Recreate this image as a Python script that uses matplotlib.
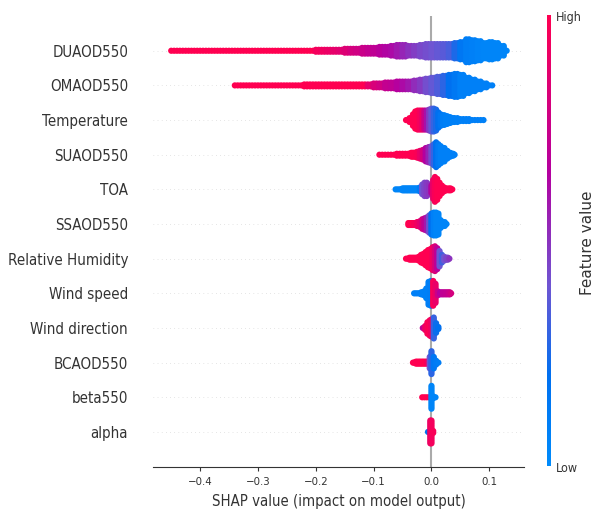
import matplotlib
matplotlib.use("Agg")
import matplotlib.pyplot as plt
from matplotlib.cm import ScalarMappable
from matplotlib.colors import LinearSegmentedColormap, Normalize

# features, top to bottom
features = ['DUAOD550', 'OMAOD550', 'Temperature', 'SUAOD550', 'TOA', 'SSAOD550',
            'Relative Humidity', 'Wind speed', 'Wind direction', 'BCAOD550', 'beta550', 'alpha']

# for every feature: shap value of the bin, dots stacked in the bin, feature value (0 low, 1 high)
duaod_x = [-.45, -.44, -.43, -.42, -.41, -.40, -.39, -.38, -.37, -.36, -.35, -.34, -.33, -.32, -.31,
           -.30, -.29, -.28, -.27, -.26, -.25, -.24, -.23, -.22, -.21, -.20, -.19, -.18, -.17, -.16,
           -.15, -.14, -.13, -.12, -.11, -.10, -.09, -.08, -.07, -.06, -.05, -.04, -.03, -.02, -.01,
           0, .01, .02, .03, .04, .05, .06, .07, .08, .09, .10, .11, .12, .13]
duaod_n = [1] * 25 + [2, 2, 2, 2, 2, 3, 3, 3, 4, 4, 4, 5, 5, 6, 7, 7, 6, 6, 7, 8, 8, 8, 8, 8, 9, 10, 13, 12, 11, 9, 10, 9, 6, 1]
duaod_c = [1] * 25 + [.95, .93, .91, .89, .86, .84, .8, .78, .75, .72, .7, .67, .64, .62, .58, .54, .5, .47, .44, .42,
                      .4, .38, .36, .33, .25, .15, .1, .08, .06, .05, .05, .05, .05, .05]

omaod_x = [-.34, -.33, -.32, -.31, -.30, -.29, -.28, -.27, -.26, -.25, -.24, -.23, -.22, -.21, -.20, -.19,
           -.18, -.17, -.16, -.15, -.14, -.13, -.12, -.11, -.10, -.09, -.08, -.07, -.06, -.05, -.04, -.03,
           -.02, -.01, 0, .01, .02, .03, .04, .05, .06, .07, .08, .09, .10, .11]
omaod_n = [1] * 12 + [2] * 12 + [3, 3, 4, 4, 5, 5, 5, 6, 7, 8, 9, 10, 11, 12, 13, 12, 9, 7, 5, 3, 1, 1]
omaod_c = [1] * 23 + [.88, .82, .78, .72, .7, .66, .62, .58, .52, .48, .42, .38, .34, .28, .2, .14, .08, .08, .08, .08, .08, .08]

temp_x = [-.044, -.038, -.032, -.028, -.024, -.02, -.016, -.012, -.008, -.004, 0, .004, .008, .012, .016,
          .02, .025, .03, .035, .04, .05, .06, .07, .08, .09]
temp_n = [1, 3, 7, 10, 11, 11, 11, 11, 11, 12, 13, 13, 12, 9, 7, 6, 5, 4, 3, 3, 2, 2, 1, 1, 1]
temp_c = [1, 1, 1, 1, 1, .95, .9, .75, .6, .48, .38, .3, .25, .2, .15, .1, .08, .08, .08, .08, .08, .08, .08, .08, .08]

suaod_x = [-.09, -.08, -.07, -.06, -.05, -.04, -.035, -.03, -.025, -.02, -.015, -.01, -.005, 0, .004, .008,
           .012, .016, .02, .025, .03, .035, .04]
suaod_n = [1, 1, 1, 2, 2, 2, 3, 3, 4, 5, 6, 8, 9, 10, 12, 14, 12, 10, 8, 5, 3, 2, 1]
suaod_c = [1, 1, 1, 1, 1, 1, 1, 1, .98, .9, .8, .65, .55, .42, .3, .2, .12, .08, .08, .08, .08, .08, .08]

toa_x = [-.062, -.055, -.05, -.045, -.04, -.035, -.03, -.025, -.02, -.016, -.012, -.008, -.004, 0, .003,
         .006, .01, .014, .018, .022, .026, .03, .036]
toa_n = [1, 1, 2, 2, 2, 2, 2, 2, 3, 6, 8, 8, 6, 5, 11, 14, 12, 8, 5, 3, 2, 2, 1]
toa_c = [.05, .05, .05, .05, .05, .05, .05, .05, .12, .4, .45, .48, .5, .65, .9, .97, 1, 1, 1, 1, 1, 1, 1]

ssaod_x = [-.04, -.035, -.03, -.025, -.02, -.016, -.012, -.008, -.004, 0, .004, .008, .012, .016, .02, .026]
ssaod_n = [2, 2, 2, 3, 4, 6, 7, 8, 10, 12, 13, 13, 12, 5, 3, 1]
ssaod_c = [1, 1, .97, .93, .87, .8, .7, .58, .42, .2, .08, .05, .05, .05, .05, .05]

rh_x = [-.044, -.038, -.032, -.026, -.022, -.018, -.014, -.01, -.006, -.002, .002, .006, .01, .014, .018, .022, .026, .031]
rh_n = [1, 2, 2, 2, 3, 5, 6, 8, 10, 11, 13, 14, 12, 9, 5, 3, 2, 1]
rh_c = [1, 1, 1, 1, 1, 1, 1, 1, 1, 1, .93, .82, .68, .4, .32, .4, .45, .5]

wspeed_x = [-.03, -.024, -.018, -.013, -.009, -.005, -.001, .003, .007, .011, .015, .02, .025, .03, .034]
wspeed_n = [1, 1, 2, 3, 6, 13, 14, 14, 11, 3, 2, 2, 2, 2, 1]
wspeed_c = [.08, .08, .08, .08, .08, .08, .1, .97, .9, .75, .65, .7, .72, .75, .8]

wdir_x = [-.015, -.011, -.007, -.003, 0, .004, .008, .012]
wdir_n = [1, 3, 7, 9, 10, 12, 6, 2]
wdir_c = [.7, .9, .97, .98, .92, .3, .22, .2]

bc_x = [-.032, -.027, -.022, -.017, -.012, -.007, -.003, 0, .004, .008, .012]
bc_n = [1, 2, 2, 2, 2, 2, 7, 13, 7, 3, 1]
bc_c = [1, 1, 1, 1, 1, .95, .4, .28, .15, .12, .1]

beta_x = [-.016, -.012, -.008, -.004, 0, .003, .007]
beta_n = [1, 1, 1, 1, 13, 2, 1]
beta_c = [1, 1, 1, 1, .05, .05, .05]

alpha_x = [-.006, -.002, 0, .003]
alpha_n = [1, 13, 13, 2]
alpha_c = [.2, .9, .95, .97]

swarms = [(duaod_x, duaod_n, duaod_c), (omaod_x, omaod_n, omaod_c), (temp_x, temp_n, temp_c),
          (suaod_x, suaod_n, suaod_c), (toa_x, toa_n, toa_c), (ssaod_x, ssaod_n, ssaod_c),
          (rh_x, rh_n, rh_c), (wspeed_x, wspeed_n, wspeed_c), (wdir_x, wdir_n, wdir_c),
          (bc_x, bc_n, bc_c), (beta_x, beta_n, beta_c), (alpha_x, alpha_n, alpha_c)]

xticks = [-0.4, -0.3, -0.2, -0.1, 0.0, 0.1]

axis_color = '#333333'
red_blue = LinearSegmentedColormap.from_list(
    'red_blue', [(0, '#008bfb'), (0.2, '#0070f0'), (0.4, '#6f55d2'), (0.65, '#b400a0'), (1, '#ff0051')])

W, H = 593, 515
fig = plt.figure(figsize=(W / 100, H / 100), dpi=100)
ax = fig.add_axes([153 / W, (H - 466.6) / H, 371 / W, 450.5 / H])

step = 1.9 / 34.64  # one stacked dot, in row units
for i, (xs, ns, cs) in enumerate(swarms):
    row = len(features) - 1 - i
    ax.axhline(row, color='#cccccc', lw=0.5, dashes=(1, 5), zorder=-1)
    px, py, pc = [], [], []
    for j, (x, n, c) in enumerate(zip(xs, ns, cs)):
        # dots of a wide bin fill the bin, so the thin tails stay closed
        width = xs[j + 1] - x if j + 1 < len(xs) else 0
        offsets = [0, width / 2] if width > 0.004 else [0]
        for off in offsets:
            for k in range(n):
                px.append(x + off)
                py.append(row + (k - (n - 1) / 2) * step)
                pc.append(c)
    ax.scatter(px, py, c=pc, s=20, cmap=red_blue, vmin=0, vmax=1, linewidths=0, zorder=3)

ax.axvline(0, color='#aaaaaa', lw=1.5, zorder=-1)
ax.set_xlim(-0.4815, 0.160)
ax.set_ylim(-1, 12)
ax.set_yticks(range(len(features)))
ax.set_yticklabels(features[::-1], fontsize=10.8, color=axis_color, stretch='condensed')
ax.set_xticks(xticks)
ax.set_xticklabels(['\u22120.4', '\u22120.3', '\u22120.2', '\u22120.1', '0.0', '0.1'], stretch='condensed')
ax.tick_params(axis='y', length=0, pad=18)
ax.tick_params(axis='x', length=3, width=0.8, color=axis_color, labelcolor=axis_color, labelsize=8.2, pad=4.5)
ax.set_xlabel('SHAP value (impact on model output)', fontsize=10.7, color=axis_color, labelpad=5, stretch='condensed')
for side in ['top', 'left', 'right']:
    ax.spines[side].set_visible(False)
ax.spines['bottom'].set_color(axis_color)

cax = fig.add_axes([547 / W, (H - 466) / H, 4 / W, 451 / H])
cb = fig.colorbar(ScalarMappable(Normalize(0, 1), red_blue), cax=cax)
cb.set_ticks([])
cb.outline.set_visible(False)
fig.text(556 / W, (H - 17) / H, 'High', ha='left', va='center', fontsize=9, color=axis_color, stretch='condensed')
fig.text(556 / W, (H - 468) / H, 'Low', ha='left', va='center', fontsize=9, color=axis_color, stretch='condensed')
fig.text(587 / W, (H - 243) / H, 'Feature value', rotation=90, ha='center', va='center',
         fontsize=11, color=axis_color)

fig.savefig('out.png', dpi=100)
